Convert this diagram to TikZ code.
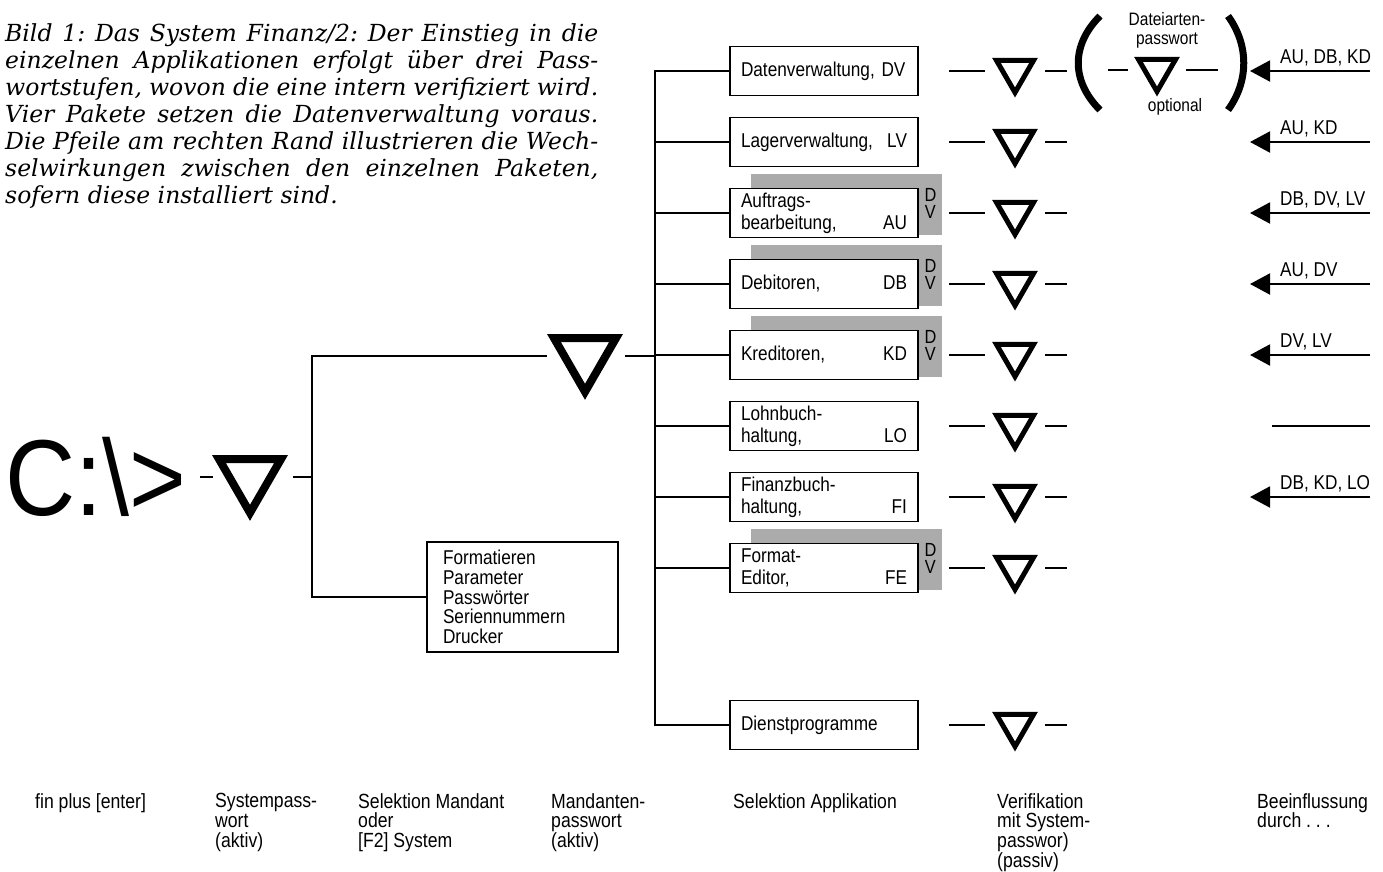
\documentclass[tikz,border=0pt]{standalone}
\usepackage{fontspec}
\setmainfont{Liberation Sans}[FakeStretch=0.86]
\newfontfamily\capfont{DejaVu Serif}
\newfontfamily\promptfont{Liberation Sans}[FakeStretch=0.9]
\usetikzlibrary{arrows.meta, calc, positioning, shapes.geometric}
\pgfdeclarelayer{background}
\pgfsetlayers{background,main}
\frenchspacing

\begin{document}
\begin{tikzpicture}[x=1pt, y=-1pt,
  line/.style={line width=1.6pt},
  stub/.style={line width=1.6pt, shorten <=30pt, shorten >=15pt},
  appbox/.style={draw, line width=1.8pt, fill=white, minimum width=188pt, minimum height=49pt, text width=166pt, inner xsep=11pt, align=left, font=\fontsize{20}{22}\selectfont},
  sysbox/.style={draw, line width=1.8pt, fill=white, minimum width=191pt, minimum height=110pt, text width=159pt, inner xsep=16pt, align=left, font=\fontsize{20}{19.8}\selectfont},
  bigtri/.style={draw, regular polygon, regular polygon sides=3, shape border rotate=180, minimum size=71.6pt, line width=8pt, inner sep=0pt},
  smalltri/.style={draw, regular polygon, regular polygon sides=3, shape border rotate=180, minimum size=43pt, line width=5pt, inner sep=0pt},
  dvshade/.style={fill=black!33},
  dvtag/.style={align=center, inner sep=0pt, outer sep=0pt, font=\fontsize{19}{17}\selectfont},
  infl/.style={-{Triangle[length=20pt, width=21pt]}, line width=2pt},
  infllbl/.style={anchor=base west, inner sep=0pt, font=\fontsize{20}{22}\selectfont},
  steplbl/.style={anchor=north west, inner sep=0pt, align=left, font=\fontsize{20.5}{19.8}\selectfont},
  captext/.style={anchor=north west, inner sep=0pt, text width=593pt, align=justify, font=\capfont\itshape\fontsize{23.5}{27}\selectfont}
]
\useasboundingbox (0,0) rectangle (1383,871);
% caption
\node[captext] (cap) at (5,23) {Bild 1: Das System Finanz/2: Der Einstieg in die\linebreak einzelnen Applikationen erfolgt über drei Pass-\linebreak wortstufen, wovon die eine intern verifiziert wird.\linebreak Vier Pakete setzen die Datenverwaltung voraus.\linebreak Die Pfeile am rechten Rand illustrieren die Wech-\linebreak selwirkungen zwischen den einzelnen Paketen,\linebreak sofern diese installiert sind.};
% start and system level
\node[anchor=west, inner sep=0pt, font=\promptfont\fontsize{108}{108}\selectfont] (cprompt) at (5,477) {C:\textbackslash>};
\node[bigtri] (systri) at (250,477) {};
\node[bigtri] (mandtri) at (585,356) {};
\node[sysbox] (sys) at (522.5,597) {Formatieren\\Parameter\\Passwörter\\Seriennummern\\Drucker};
\coordinate (jsys) at (312,477);
\coordinate (japp) at (655,356);
% applications
\node[appbox] (dv) at (824,71) {Datenverwaltung, DV};
\node[appbox] (lv) at (824,142) {Lagerverwaltung,\hfill LV};
\node[appbox] (au) at (824,213) {Auftrags-\\bearbeitung,\hfill AU};
\node[appbox] (db) at (824,284) {Debitoren,\hfill DB};
\node[appbox] (kd) at (824,355) {Kreditoren,\hfill KD};
\node[appbox] (lo) at (824,426) {Lohnbuch-\\haltung,\hfill LO};
\node[appbox] (fi) at (824,497) {Finanzbuch-\\haltung,\hfill FI};
\node[appbox] (fe) at (824,568) {Format-\\Editor,\hfill FE};
\node[appbox] (dp) at (824,725) {Dienstprogramme};
% DV prerequisite
\begin{pgfonlayer}{background}
\fill[dvshade] ([shift={(22pt,14pt)}]au.north west) rectangle ([shift={(23pt,3pt)}]au.south east);
\fill[dvshade] ([shift={(22pt,14pt)}]db.north west) rectangle ([shift={(23pt,3pt)}]db.south east);
\fill[dvshade] ([shift={(22pt,14pt)}]kd.north west) rectangle ([shift={(23pt,3pt)}]kd.south east);
\fill[dvshade] ([shift={(22pt,14pt)}]fe.north west) rectangle ([shift={(23pt,3pt)}]fe.south east);
\end{pgfonlayer}
\node[dvtag] (tagau) at ([shift={(11.5pt,9.5pt)}]au.east) {D\\V};
\node[dvtag] (tagdb) at ([shift={(11.5pt,9.5pt)}]db.east) {D\\V};
\node[dvtag] (tagkd) at ([shift={(11.5pt,9.5pt)}]kd.east) {D\\V};
\node[dvtag] (tagfe) at ([shift={(11.5pt,9.5pt)}]fe.east) {D\\V};
% verification
\node[smalltri] (vdv) at (1015,71) {};
\node[smalltri] (vlv) at (1015,142) {};
\node[smalltri] (vau) at (1015,213) {};
\node[smalltri] (vdb) at (1015,284) {};
\node[smalltri] (vkd) at (1015,355) {};
\node[smalltri] (vlo) at (1015,426) {};
\node[smalltri] (vfi) at (1015,497) {};
\node[smalltri] (vfe) at (1015,568) {};
\node[smalltri] (vdp) at (1015,725) {};
\coordinate (stubend) at (1067,0);
% optional file type password
\node[smalltri] (opttri) at (1157,70) {};
\coordinate (optl) at (1108,70);
\coordinate (optr) at (1218,70);
\node[align=center, inner sep=0pt, font=\fontsize{18}{19}\selectfont] (optpw) at (1167,30) {Dateiarten-\\passwort};
\node[inner sep=0pt, font=\fontsize{18}{19}\selectfont] (optnote) at (1175,107) {optional};
% influence
\coordinate (rim) at (1370,0);
\coordinate (tip) at (1250,0);
\coordinate (plainstart) at (1272,0);
\coordinate (lblx) at (1280,0);
\node[infllbl] (idv) at ([yshift=8pt]dv -| lblx) {AU, DB, KD};
\node[infllbl] (ilv) at ([yshift=8pt]lv -| lblx) {AU, KD};
\node[infllbl] (iau) at ([yshift=8pt]au -| lblx) {DB, DV, LV};
\node[infllbl] (idb) at ([yshift=8pt]db -| lblx) {AU, DV};
\node[infllbl] (ikd) at ([yshift=8pt]kd -| lblx) {DV, LV};
\node[infllbl] (ifi) at ([yshift=8pt]fi -| lblx) {DB, KD, LO};
% step labels
\node[steplbl] (s1) at (35,793) {fin plus [enter]};
\node[steplbl] (s2) at (215,793) {Systempass-\\wort\\(aktiv)};
\node[steplbl] (s3) at (358,793) {Selektion Mandant\\oder\\{}[F2] System};
\node[steplbl] (s4) at (551,793) {Mandanten-\\passwort\\(aktiv)};
\node[steplbl] (s5) at (733,793) {Selektion Applikation};
\node[steplbl] (s6) at (997,793) {Verifikation\\mit System-\\passwor)\\(passiv)};
\node[steplbl] (s7) at (1257,793) {Beeinflussung\\durch . . .};
% connections
\draw[line, shorten <=14pt, shorten >=12pt] (cprompt.east) -- (systri.west);
\draw[line, shorten <=18pt] (systri.east) -- (jsys);
\draw[line, shorten >=13pt] (sys.west) -| (jsys) |- (mandtri.west);
\draw[line, shorten <=15pt] (mandtri.east) -- (japp);
\draw[line] (japp) |- (dv.west) (japp) |- (lv.west) (japp) |- (au.west) (japp) |- (db.west) (japp) |- (kd.west)
  (japp) |- (lo.west) (japp) |- (fi.west) (japp) |- (fe.west) (japp) |- (dp.west);
\draw[stub] (dv.east) -- (vdv.west);
\draw[stub] (lv.east) -- (vlv.west);
\draw[stub] (au.east) -- (vau.west);
\draw[stub] (db.east) -- (vdb.west);
\draw[stub] (kd.east) -- (vkd.west);
\draw[stub] (lo.east) -- (vlo.west);
\draw[stub] (fi.east) -- (vfi.west);
\draw[stub] (fe.east) -- (vfe.west);
\draw[stub] (dp.east) -- (vdp.west);
\draw[line, shorten <=15pt] (vdv.east) -- (vdv.east -| stubend);
\draw[line, shorten <=15pt] (vlv.east) -- (vlv.east -| stubend);
\draw[line, shorten <=15pt] (vau.east) -- (vau.east -| stubend);
\draw[line, shorten <=15pt] (vdb.east) -- (vdb.east -| stubend);
\draw[line, shorten <=15pt] (vkd.east) -- (vkd.east -| stubend);
\draw[line, shorten <=15pt] (vlo.east) -- (vlo.east -| stubend);
\draw[line, shorten <=15pt] (vfi.east) -- (vfi.east -| stubend);
\draw[line, shorten <=15pt] (vfe.east) -- (vfe.east -| stubend);
\draw[line, shorten <=15pt] (vdp.east) -- (vdp.east -| stubend);
\draw[line, shorten >=14pt] (optl) -- (opttri.west);
\draw[line, shorten <=14pt] (opttri.east) -- (optr);
\draw[line width=7pt] (1100,16) .. controls (1071,45) and (1071,81) .. (1100,110);
\draw[line width=7pt] (1228,16) .. controls (1249,45) and (1249,81) .. (1228,110);
\draw[infl] (dv -| rim) -- (dv -| tip);
\draw[infl] (lv -| rim) -- (lv -| tip);
\draw[infl] (au -| rim) -- (au -| tip);
\draw[infl] (db -| rim) -- (db -| tip);
\draw[infl] (kd -| rim) -- (kd -| tip);
\draw[line width=2pt] (lo -| rim) -- (lo -| plainstart);
\draw[infl] (fi -| rim) -- (fi -| tip);
\end{tikzpicture}
\end{document}
